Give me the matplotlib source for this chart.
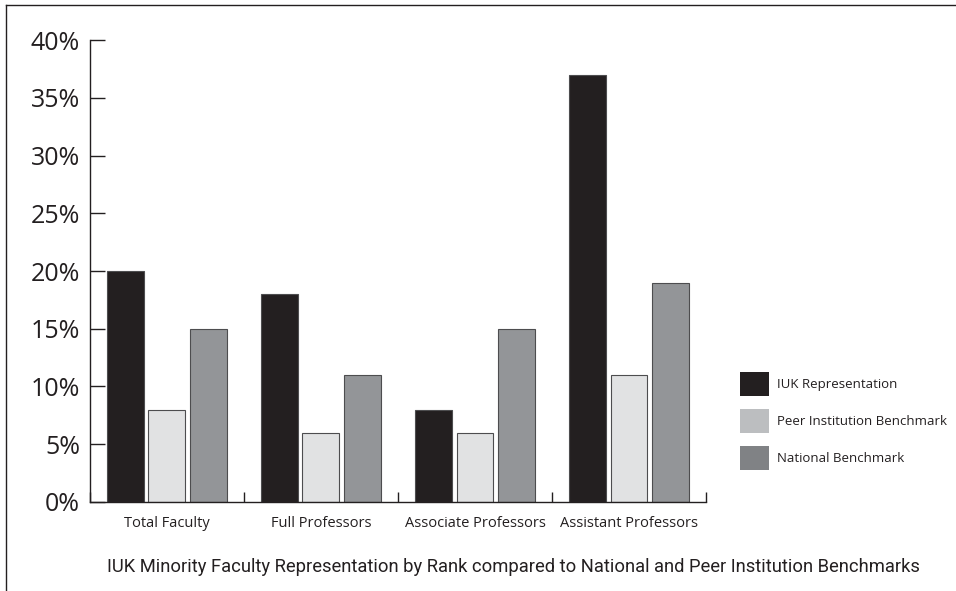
import matplotlib.pyplot as plt
from matplotlib.patches import Patch
from matplotlib.lines import Line2D
import numpy as np

# Data
categories = ['Total Faculty', 'Full Professors', 'Associate Professors', 'Assistant Professors']
iuk = [20, 18, 8, 37]
peer = [8, 6, 6, 11]
national = [15, 11, 15, 19]
series_names = ['IUK Representation', 'Peer Institution Benchmark', 'National Benchmark']
y_ticks = [0, 5, 10, 15, 20, 25, 30, 35, 40]
title = 'IUK Minority Faculty Representation by Rank compared to National and Peer Institution Benchmarks'

plt.rcParams['font.family'] = ['Open Sans', 'DejaVu Sans']

fig = plt.figure(figsize=(9.56, 5.91), dpi=100)
ax = fig.add_axes([0.0941, 0.1506, 0.7385 - 0.0941, 0.9323 - 0.1506])

centers = np.arange(len(categories)) + 0.5
w = 0.24
off = 0.267
edge = '#4d4d4f'
ax.bar(centers - off, iuk, w, color='#231f20', edgecolor=edge, linewidth=0.8)
ax.bar(centers, peer, w, color='#e1e2e3', edgecolor=edge, linewidth=0.8)
ax.bar(centers + off, national, w, color='#939598', edgecolor=edge, linewidth=0.8)

ax.set_xlim(0, len(categories))
ax.set_ylim(0, 40)
ax.set_yticks(y_ticks)
ax.set_yticklabels([f'{t}%' for t in y_ticks], fontsize=18, color='#231f20')
ax.tick_params(axis='y', direction='in', length=11, width=1, color='#231f20', pad=7)
ax.set_xticks(np.arange(len(categories) + 1))
ax.set_xticklabels([])
ax.tick_params(axis='x', direction='in', length=7.5, width=1, color='#231f20')
for c, name in zip(centers, categories):
    ax.text(c, -1.2, name, ha='center', va='top', fontsize=10.5, color='#231f20')

for s in ['top', 'right']:
    ax.spines[s].set_visible(False)
for s in ['left', 'bottom']:
    ax.spines[s].set_color('#231f20')
    ax.spines[s].set_linewidth(1)

handles = [Patch(facecolor='#231f20'), Patch(facecolor='#bcbec0'), Patch(facecolor='#808285')]
fig.legend(handles, series_names, loc='upper left', bbox_to_anchor=(0.762, 0.39),
           frameon=False, fontsize=9.5, handlelength=2.2, handleheight=2.4,
           handletextpad=0.55, labelspacing=1.0, labelcolor='#231f20')

# title: shrink until it fits the width used in the original (condensed face there)
t = fig.text(0.537, 0.04, title, ha='center', va='center', fontsize=17, color='#231f20',
             family=['Roboto', 'Liberation Sans', 'DejaVu Sans'])
t.set_y(1 - 567 / 591)
fig.canvas.draw()
tw = t.get_window_extent().width
if tw > 815:
    t.set_fontsize(17 * 815 / tw)

# frame lines at top and left
fig.add_artist(Line2D([0.0063, 1.0], [0.9915, 0.9915], transform=fig.transFigure, color='#231f20', lw=1))
fig.add_artist(Line2D([0.0063, 0.0063], [0.0, 0.9915], transform=fig.transFigure, color='#231f20', lw=1))

fig.savefig('out.png', dpi=100)
